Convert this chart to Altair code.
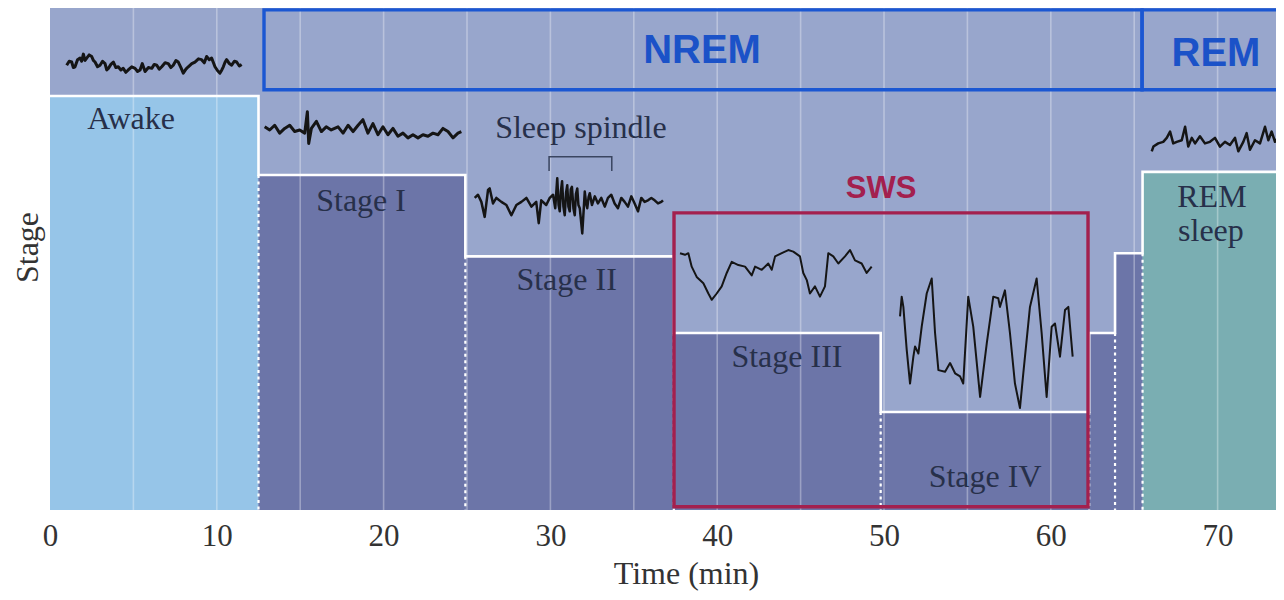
import altair as alt
import pandas as pd

# ---------------- data ----------------
X_MAX = 73.5
Y_MIN, Y_MAX = -0.2405, 6.114

tick_values = [0, 10, 20, 30, 40, 50, 60, 70]
grid_minutes = [5, 10, 15, 20, 25, 30, 35, 40, 45, 50, 55, 60, 65, 70]

stage_kind = ["awake", "nrem", "nrem", "nrem", "nrem", "nrem", "nrem", "rem"]
stage_start = [0.0, 12.5, 24.9, 37.4, 49.8, 62.3, 63.85, 65.5]
stage_end = [12.5, 24.9, 37.4, 49.8, 62.3, 63.85, 65.5, 75.0]
stage_level = [5.0, 4.0, 2.97, 2.0, 1.0, 2.0, 3.01, 4.04]

box_name = ["NREM", "REM", "SWS"]
box_x1 = [12.83, 65.47, 37.41]
box_x2 = [65.47, 76.0, 62.23]
box_y1 = [5.08, 5.08, -0.20]
box_y2 = [6.09, 6.09, 3.52]

label_text = ["Awake", "Stage I", "Sleep spindle", "Stage II", "Stage III", "Stage IV", "REM", "sleep"]
label_t = [4.86, 18.65, 31.83, 30.97, 44.18, 56.06, 69.66, 69.60]
label_v = [4.58, 3.54, 4.47, 2.54, 1.57, 0.05, 3.60, 3.16]

big_text = ["NREM", "REM"]
big_t = [39.09, 69.90]
big_v = [5.42, 5.38]

sws_text = ["SWS"]
sws_t = [49.82]
sws_v = [3.71]

spindle_bracket_t = [29.92, 29.92, 33.68, 33.68]
spindle_bracket_v = [4.05, 4.23, 4.23, 4.05]

awake_eeg = [(1.00, 5.39), (1.15, 5.44), (1.30, 5.43), (1.40, 5.36), (1.50, 5.37), (1.65, 5.46),
             (1.80, 5.48), (1.90, 5.44), (2.00, 5.53), (2.10, 5.45), (2.20, 5.48), (2.35, 5.52),
             (2.50, 5.50), (2.60, 5.45), (2.70, 5.43), (2.85, 5.37), (3.00, 5.39), (3.15, 5.44),
             (3.30, 5.41), (3.40, 5.33), (3.50, 5.35), (3.65, 5.40), (3.80, 5.43), (3.95, 5.36),
             (4.09, 5.37), (4.25, 5.33), (4.39, 5.35), (4.55, 5.30), (4.69, 5.33), (4.90, 5.37),
             (5.10, 5.35), (5.25, 5.31), (5.40, 5.33), (5.53, 5.41), (5.70, 5.31), (5.90, 5.36),
             (6.10, 5.35), (6.25, 5.40), (6.40, 5.39), (6.55, 5.34), (6.70, 5.37), (6.90, 5.42),
             (7.09, 5.41), (7.25, 5.36), (7.39, 5.39), (7.55, 5.45), (7.69, 5.43), (7.85, 5.36),
             (7.99, 5.29), (8.15, 5.34), (8.29, 5.37), (8.50, 5.41), (8.69, 5.43), (8.90, 5.47),
             (9.09, 5.46), (9.25, 5.42), (9.39, 5.50), (9.55, 5.46), (9.69, 5.48), (9.80, 5.42),
             (9.89, 5.37), (10.05, 5.32), (10.19, 5.29), (10.30, 5.33), (10.39, 5.37), (10.50, 5.43),
             (10.59, 5.46), (10.75, 5.41), (10.89, 5.39), (11.05, 5.44), (11.19, 5.43), (11.35, 5.38),
             (11.49, 5.40)]

stage1_eeg = [(12.87, 4.61), (13.17, 4.57), (13.47, 4.63), (13.77, 4.53), (14.07, 4.59), (14.37, 4.63),
              (14.67, 4.55), (14.97, 4.57), (15.27, 4.53), (15.43, 4.80), (15.51, 4.40), (15.67, 4.59),
              (15.97, 4.68), (16.27, 4.55), (16.56, 4.61), (16.86, 4.57), (17.27, 4.61), (17.57, 4.53),
              (17.87, 4.63), (18.17, 4.55), (18.47, 4.63), (18.76, 4.70), (19.06, 4.53), (19.36, 4.65),
              (19.66, 4.51), (19.96, 4.61), (20.26, 4.51), (20.56, 4.59), (20.86, 4.49), (21.16, 4.53),
              (21.46, 4.47), (21.76, 4.51), (22.06, 4.47), (22.36, 4.51), (22.66, 4.49), (22.96, 4.53),
              (23.26, 4.51), (23.56, 4.59), (23.86, 4.55), (24.16, 4.47), (24.46, 4.53), (24.66, 4.55)]

stage2_eeg = [(25.46, 3.71), (25.66, 3.75), (25.86, 3.66), (26.06, 3.47), (26.26, 3.81), (26.36, 3.83),
              (26.56, 3.64), (26.76, 3.71), (27.06, 3.66), (27.36, 3.62), (27.66, 3.49), (27.96, 3.62),
              (28.26, 3.66), (28.56, 3.71), (28.86, 3.60), (29.15, 3.66), (29.30, 3.39), (29.45, 3.68),
              (29.75, 3.62), (29.96, 3.71), (30.16, 3.75), (30.29, 3.58), (30.41, 3.96), (30.49, 3.62),
              (30.56, 3.54), (30.63, 3.80), (30.70, 3.92), (30.78, 3.60), (30.86, 3.49), (30.94, 3.78),
              (31.01, 3.87), (31.08, 3.60), (31.16, 3.54), (31.22, 3.82), (31.29, 3.85), (31.38, 3.58),
              (31.46, 3.49), (31.53, 3.76), (31.61, 3.83), (31.68, 3.62), (31.76, 3.58), (31.91, 3.26),
              (32.06, 3.79), (32.14, 3.64), (32.21, 3.58), (32.29, 3.72), (32.36, 3.77), (32.49, 3.62),
              (32.66, 3.73), (32.85, 3.64), (33.05, 3.71), (33.26, 3.60), (33.45, 3.71), (33.65, 3.75),
              (33.85, 3.64), (34.05, 3.58), (34.25, 3.71), (34.45, 3.66), (34.65, 3.60), (34.85, 3.73),
              (35.05, 3.64), (35.25, 3.54), (35.45, 3.71), (35.65, 3.66), (35.85, 3.68), (36.05, 3.71),
              (36.25, 3.68), (36.45, 3.64), (36.65, 3.66), (36.75, 3.68)]

stage3_eeg = [(37.77, 3.01), (38.07, 2.99), (38.27, 3.01), (38.47, 2.84), (38.77, 2.71), (39.17, 2.63),
              (39.47, 2.50), (39.67, 2.42), (39.97, 2.50), (40.27, 2.59), (40.57, 2.76), (40.87, 2.90),
              (41.27, 2.86), (41.67, 2.84), (42.07, 2.73), (42.27, 2.84), (42.67, 2.80), (43.06, 2.88),
              (43.27, 2.80), (43.47, 2.97), (43.87, 3.01), (44.26, 3.05), (44.56, 3.03), (44.96, 2.97),
              (45.16, 2.76), (45.37, 2.67), (45.56, 2.50), (45.86, 2.59), (46.16, 2.46), (46.46, 2.59),
              (46.66, 3.01), (46.96, 2.97), (47.26, 2.88), (47.66, 2.97), (47.96, 3.05), (48.26, 2.92),
              (48.66, 2.88), (48.96, 2.76), (49.26, 2.84)]

stage4_eeg = [(50.96, 2.21), (51.06, 2.46), (51.16, 2.33), (51.36, 1.79), (51.56, 1.36), (51.76, 1.70),
              (51.86, 1.83), (52.06, 1.74), (52.26, 2.08), (52.56, 2.50), (52.86, 2.69), (53.06, 2.00),
              (53.26, 1.53), (53.66, 1.51), (53.96, 1.62), (54.26, 1.49), (54.56, 1.45), (54.75, 1.36),
              (55.05, 2.46), (55.35, 2.08), (55.76, 1.19), (56.16, 1.87), (56.55, 2.46), (56.85, 2.44),
              (56.95, 2.33), (57.25, 2.54), (57.55, 2.00), (57.85, 1.36), (58.15, 1.05), (58.35, 1.49),
              (58.75, 2.33), (59.15, 2.69), (59.45, 2.00), (59.75, 1.19), (60.05, 2.08), (60.25, 2.12),
              (60.55, 1.70), (60.85, 2.29), (61.05, 2.33), (61.31, 1.70)]

rem_eeg = [(66.05, 4.30), (66.15, 4.36), (66.44, 4.40), (66.74, 4.42), (66.95, 4.47), (67.15, 4.55),
           (67.34, 4.40), (67.55, 4.42), (67.85, 4.44), (68.05, 4.61), (68.24, 4.36), (68.45, 4.47),
           (68.65, 4.40), (68.94, 4.49), (69.24, 4.40), (69.54, 4.42), (69.84, 4.47), (70.14, 4.36),
           (70.44, 4.42), (70.74, 4.38), (71.04, 4.47), (71.24, 4.30), (71.54, 4.42), (71.74, 4.53),
           (71.94, 4.32), (72.24, 4.44), (72.54, 4.40), (72.84, 4.61), (73.04, 4.44), (73.24, 4.55),
           (73.44, 4.42), (73.74, 4.51), (73.98, 4.49)]

# ---------------- tables ----------------
bars = pd.DataFrame({"start": stage_start, "end": stage_end, "level": stage_level,
                     "kind": stage_kind, "base": Y_MIN})

step = pd.DataFrame({"t": stage_start + [stage_end[-1]],
                     "v": stage_level + [stage_level[-1]]})
step["i"] = range(len(step))

dots = pd.DataFrame({
    "t": stage_start[1:],
    "top": [min(stage_level[k - 1], stage_level[k]) for k in range(1, len(stage_level))],
    "base": Y_MIN,
})

grid = pd.DataFrame({"t": grid_minutes, "lo": Y_MIN, "hi": Y_MAX})

boxes = pd.DataFrame({"name": box_name, "x1": box_x1, "x2": box_x2, "y1": box_y1, "y2": box_y2})


def trace_frame(name, pts):
    df = pd.DataFrame(pts, columns=["t", "v"])
    df["trace"] = name
    df["i"] = range(len(df))
    return df


noisy = pd.concat([trace_frame("awake", awake_eeg), trace_frame("s1", stage1_eeg)])
fast = pd.concat([trace_frame("s2", stage2_eeg), trace_frame("rem", rem_eeg)])
slow = pd.concat([trace_frame("s3", stage3_eeg), trace_frame("s4", stage4_eeg)])

bracket = pd.DataFrame({"t": spindle_bracket_t, "v": spindle_bracket_v})
bracket["i"] = range(len(bracket))

labels = pd.DataFrame({"text": label_text, "t": label_t, "v": label_v})
bigl = pd.DataFrame({"text": big_text, "t": big_t, "v": big_v})
swsl = pd.DataFrame({"text": sws_text, "t": sws_t, "v": sws_v})

# ---------------- scales / axes ----------------
SERIF = "Liberation Serif"
xs = alt.Scale(domain=[0, X_MAX], nice=False, zero=False)
ys = alt.Scale(domain=[Y_MIN, Y_MAX], nice=False, zero=False)

x_axis = alt.Axis(title="Time (min)", values=tick_values, labelFont=SERIF, labelFontSize=31,
                  labelColor="#333333", ticks=False, domain=False, grid=False,
                  labelPadding=35, labelBaseline="alphabetic", labelFlush=False,
                  titleFont=SERIF, titleFontSize=32, titleFontWeight="normal",
                  titleColor="#333333", titleX=636, titleY=73, titleAlign="center",
                  titleBaseline="alphabetic")
y_axis = alt.Axis(title="Stage", labels=False, ticks=False, domain=False, grid=False,
                  titleFont=SERIF, titleFontSize=32, titleFontWeight="normal",
                  titleColor="#333333", titleAngle=270, titleX=-13, titleY=239,
                  titleAlign="center", titleBaseline="alphabetic")


def X(field):
    return alt.X(field, type="quantitative", scale=xs, axis=x_axis)


def Y(field):
    return alt.Y(field, type="quantitative", scale=ys, axis=y_axis)


# ---------------- layers ----------------
bar_layer = alt.Chart(bars).mark_rect(clip=True).encode(
    x=X("start"), x2="end", y=Y("level"), y2="base",
    color=alt.Color("kind:N", legend=None,
                    scale=alt.Scale(domain=["awake", "nrem", "rem"],
                                    range=["#96C5E8", "#6C75A8", "#7AAEB2"])),
)

grid_layer = alt.Chart(grid).mark_rule(color="white", opacity=0.32, strokeWidth=1.6).encode(
    x=X("t"), y=Y("lo"), y2="hi")

step_layer = alt.Chart(step).mark_line(interpolate="step-after", color="white",
                                       strokeWidth=2.6, clip=True).encode(
    x=X("t"), y=Y("v"), order="i:Q")

dot_layer = alt.Chart(dots).mark_rule(color="white", strokeWidth=2.2,
                                      strokeDash=[3, 3.5]).encode(
    x=X("t"), y=Y("top"), y2="base")

box_layer = alt.Chart(boxes).mark_rect(fillOpacity=0, strokeWidth=3.4, clip=True).encode(
    x=X("x1"), x2="x2", y=Y("y1"), y2="y2",
    stroke=alt.Stroke("name:N", legend=None,
                      scale=alt.Scale(domain=["NREM", "REM", "SWS"],
                                      range=["#1B57D2", "#1B57D2", "#A3204E"])),
)

noisy_layer = alt.Chart(noisy).mark_line(color="#151515", strokeWidth=3.0,
                                         strokeJoin="round").encode(
    x=X("t"), y=Y("v"), detail="trace:N", order="i:Q")

fast_layer = alt.Chart(fast).mark_line(color="#151515", strokeWidth=2.5, clip=True,
                                       strokeJoin="round").encode(
    x=X("t"), y=Y("v"), detail="trace:N", order="i:Q")

slow_layer = alt.Chart(slow).mark_line(color="#151515", strokeWidth=2.0,
                                       strokeJoin="round").encode(
    x=X("t"), y=Y("v"), detail="trace:N", order="i:Q")

bracket_layer = alt.Chart(bracket).mark_line(color="#3A4560", strokeWidth=1.5).encode(
    x=X("t"), y=Y("v"), order="i:Q")

label_layer = alt.Chart(labels).mark_text(font=SERIF, fontSize=32, color="#27304A",
                                          align="center", baseline="alphabetic").encode(
    x=X("t"), y=Y("v"), text="text:N")

big_layer = alt.Chart(bigl).mark_text(font="Liberation Sans", fontWeight="bold", fontSize=40,
                                      color="#1B52C8", align="center",
                                      baseline="alphabetic").encode(
    x=X("t"), y=Y("v"), text="text:N")

sws_layer = alt.Chart(swsl).mark_text(font="Liberation Sans", fontWeight="bold", fontSize=31,
                                      color="#A3204E", align="center",
                                      baseline="alphabetic").encode(
    x=X("t"), y=Y("v"), text="text:N")

chart = alt.layer(
    bar_layer, grid_layer, step_layer, dot_layer, box_layer,
    noisy_layer, fast_layer, slow_layer, bracket_layer, label_layer, big_layer, sws_layer,
).properties(
    width=1226, height=502,
    autosize=alt.AutoSizeParams(type="none"),
    padding={"left": 42, "top": 0, "right": 0, "bottom": 82},
    background="white",
).configure_view(fill="#98A6CC", strokeWidth=0)

chart.save("out.html", embed_options={"renderer": "svg", "actions": False})
